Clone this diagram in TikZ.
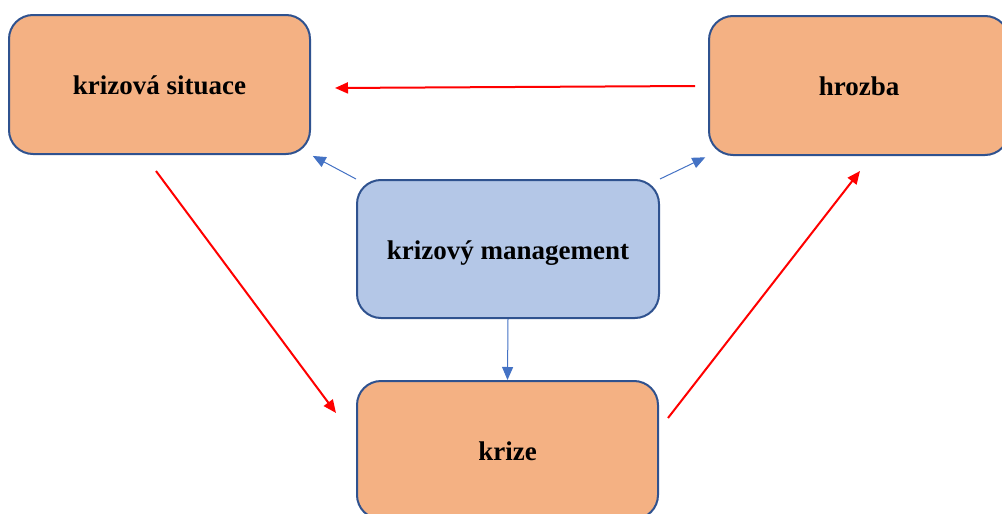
\documentclass[tikz,border=0pt]{standalone}
\usepackage{fontspec}
\setmainfont{Liberation Serif}
\usetikzlibrary{arrows.meta,calc}
\definecolor{boxorange}{HTML}{F4B183}
\definecolor{boxblue}{HTML}{B4C7E7}
\definecolor{boxedge}{HTML}{2F528F}
\definecolor{linkblue}{HTML}{4472C4}
\begin{document}
\begin{tikzpicture}[x=1pt,y=-1pt,
  card/.style={draw=boxedge, line width=2pt, rounded corners=24pt,
    minimum width=301pt, minimum height=139pt, inner sep=0pt,
    text height=26pt, text depth=6pt,
    font=\fontsize{27}{32}\selectfont\bfseries, text=black},
  orangecard/.style={card, fill=boxorange},
  bluecard/.style={card, fill=boxblue, minimum height=138pt},
  redlink/.style={draw=red, line width=2pt, -{Triangle[length=13pt,width=11pt]}},
  bluelink/.style={draw=linkblue, line width=1pt, -{Triangle[length=13pt,width=11pt]}}]
  \useasboundingbox (0,0) rectangle (1002,514);
  \clip (0,0) rectangle (1002,514);

  \node[orangecard] (sit) at (159.5,84.5) {krizová situace};
  \node[orangecard, minimum width=300pt] (hrozba) at (859,85.5) {hrozba};
  \node[bluecard, minimum width=302pt] (mgmt) at (508,249) {krizový management};
  \node[orangecard, minimum height=138pt] (krize) at (507.5,450) {krize};

  % cycle: hrozba -> krizova situace -> krize -> hrozba
  \draw[redlink] ($(hrozba.west)+(-13,0.5)$) -- ($(sit.east)+(24,3.5)$);
  \draw[redlink] ($(sit.south)+(-3.5,16)$) -- ($(krize.west)+(-20,-37)$);
  \draw[redlink] ($(krize.east)+(9,-32)$) -- ($(hrozba.south)+(1,15)$);

  % management acts on all three states
  \draw[bluelink, shorten >=2pt] (mgmt.north west) -- (sit.south east);
  \draw[bluelink, shorten >=3pt] (mgmt.north east) -- (hrozba.south west);
  \draw[bluelink] (mgmt.south) -- (krize.north);
\end{tikzpicture}
\end{document}
